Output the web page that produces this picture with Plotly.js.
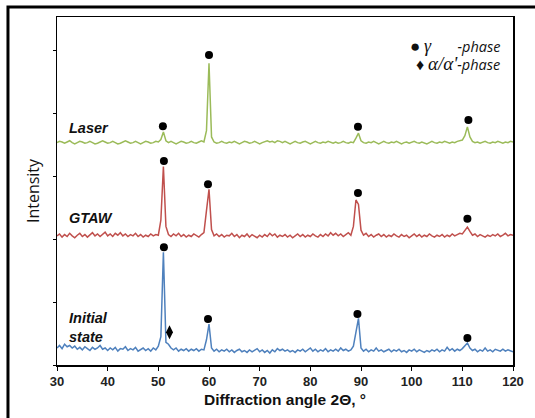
<!DOCTYPE html>
<html>
<head>
<meta charset="utf-8">
<script src="https://cdn.plot.ly/plotly-3.0.1.min.js"></script>
<style>html,body{margin:0;padding:0;background:#fff;}#chart{width:535px;height:418px;}</style>
</head>
<body>
<div id="chart"></div>
<script>
// Diffraction angle grid: 30° to 120° in 0.5° steps
var angleStart = 30, angleStep = 0.5;
var initialState = [
0.27,0.31,0.26,0.33,0.29,0.31,0.27,0.30,0.25,0.28,
0.24,0.29,0.26,0.23,0.28,0.25,0.27,0.31,0.25,0.27,
0.23,0.27,0.24,0.28,0.22,0.26,0.25,0.29,0.23,0.26,
0.24,0.28,0.22,0.25,0.27,0.23,0.26,0.22,0.27,0.24,
0.30,0.45,1.79,0.36,0.33,0.27,0.24,0.27,0.22,0.25,
0.23,0.26,0.22,0.25,0.23,0.26,0.22,0.25,0.24,0.40,
0.65,0.27,0.22,0.25,0.21,0.24,0.22,0.25,0.21,0.24,
0.20,0.23,0.25,0.21,0.23,0.20,0.24,0.21,0.23,0.26,
0.21,0.24,0.20,0.23,0.19,0.24,0.21,0.26,0.23,0.25,
0.22,0.24,0.21,0.23,0.20,0.24,0.22,0.25,0.21,0.24,
0.27,0.22,0.25,0.21,0.24,0.22,0.26,0.21,0.24,0.22,
0.25,0.22,0.27,0.23,0.25,0.22,0.24,0.30,0.55,0.74,
0.27,0.22,0.25,0.21,0.24,0.22,0.27,0.22,0.24,0.21,
0.23,0.25,0.21,0.24,0.22,0.25,0.21,0.23,0.20,0.24,
0.22,0.25,0.21,0.24,0.22,0.20,0.23,0.21,0.24,0.22,
0.25,0.21,0.24,0.22,0.28,0.23,0.26,0.22,0.25,0.23,
0.26,0.30,0.35,0.27,0.23,0.25,0.21,0.24,0.22,0.27,
0.22,0.24,0.21,0.25,0.23,0.22,0.25,0.22,0.24,0.23,
0.21];
var gtaw = [
2.05,2.08,2.03,2.07,2.04,2.09,2.05,2.02,2.06,2.09,
2.04,2.07,2.03,2.06,2.10,2.05,2.08,2.04,2.07,2.11,
2.05,2.08,2.04,2.09,2.06,2.10,2.05,2.08,2.04,2.07,
2.05,2.09,2.04,2.07,2.03,2.06,2.04,2.08,2.05,2.07,
2.06,2.30,3.15,2.20,2.07,2.04,2.08,2.05,2.09,2.04,
2.07,2.03,2.06,2.04,2.08,2.05,2.03,2.07,2.10,2.45,
2.79,2.15,2.05,2.08,2.04,2.07,2.03,2.06,2.05,2.09,
2.04,2.07,2.02,2.06,2.04,2.08,2.03,2.07,2.05,2.02,
2.06,2.03,2.07,2.04,2.09,2.05,2.08,2.03,2.06,2.04,
2.07,2.03,2.06,2.02,2.05,2.08,2.04,2.07,2.03,2.06,
2.04,2.08,2.05,2.03,2.07,2.04,2.08,2.05,2.10,2.06,
2.09,2.05,2.08,2.04,2.07,2.10,2.06,2.20,2.62,2.55,
2.14,2.06,2.09,2.04,2.07,2.03,2.06,2.08,2.04,2.07,
2.03,2.06,2.04,2.08,2.05,2.03,2.07,2.04,2.06,2.02,
2.05,2.08,2.04,2.07,2.03,2.06,2.04,2.08,2.05,2.03,
2.06,2.04,2.07,2.03,2.06,2.04,2.08,2.05,2.07,2.09,
2.08,2.14,2.19,2.12,2.06,2.08,2.04,2.07,2.05,2.03,
2.06,2.04,2.07,2.05,2.08,2.04,2.06,2.09,2.05,2.07,
2.06];
var laser = [
3.53,3.55,3.54,3.52,3.54,3.56,3.53,3.51,3.53,3.55,
3.54,3.52,3.53,3.55,3.53,3.51,3.52,3.54,3.56,3.54,
3.52,3.53,3.55,3.53,3.51,3.52,3.54,3.56,3.54,3.52,
3.53,3.55,3.53,3.51,3.53,3.55,3.54,3.52,3.53,3.55,
3.54,3.58,3.70,3.56,3.53,3.55,3.53,3.51,3.53,3.55,
3.54,3.52,3.53,3.55,3.53,3.52,3.54,3.56,3.54,3.72,
4.79,3.62,3.54,3.52,3.53,3.55,3.53,3.52,3.54,3.53,
3.55,3.53,3.51,3.53,3.55,3.54,3.52,3.53,3.55,3.53,
3.51,3.53,3.55,3.56,3.54,3.55,3.53,3.56,3.55,3.53,
3.55,3.53,3.51,3.53,3.55,3.53,3.52,3.54,3.55,3.53,
3.51,3.53,3.55,3.53,3.52,3.54,3.53,3.55,3.53,3.52,
3.54,3.52,3.53,3.55,3.53,3.52,3.54,3.53,3.60,3.68,
3.56,3.53,3.52,3.54,3.53,3.55,3.53,3.51,3.53,3.55,
3.53,3.52,3.54,3.53,3.55,3.53,3.51,3.53,3.54,3.52,
3.53,3.55,3.53,3.52,3.54,3.53,3.51,3.53,3.55,3.53,
3.52,3.54,3.53,3.55,3.53,3.52,3.54,3.53,3.55,3.56,
3.57,3.64,3.78,3.62,3.55,3.53,3.54,3.52,3.54,3.55,
3.53,3.52,3.54,3.53,3.55,3.53,3.52,3.54,3.53,3.55,
3.54];
// Phase markers
var gammaX = [50.9, 60.0, 89.4, 111.2, 51.1, 59.8, 89.4, 111.0, 51.1, 59.8, 89.3, 111.0];
var gammaY = [3.79, 4.92, 3.78, 3.89, 3.24, 2.87, 2.73, 2.32, 1.87, 0.73, 0.81, 0.43];
var alphaX = [52.2];
var alphaY = [0.52];
var sampleLabels = ["Laser", "GTAW", "Initial<br>state"];
var xTicks = [30, 40, 50, 60, 70, 80, 90, 100, 110, 120];

var angles = initialState.map(function (_, i) { return angleStart + i * angleStep; });

var traces = [
  {x: angles, y: initialState, mode: 'lines', line: {color: '#4F81BD', width: 1.5}, name: 'Initial state'},
  {x: angles, y: gtaw, mode: 'lines', line: {color: '#C0504D', width: 1.5}, name: 'GTAW'},
  {x: angles, y: laser, mode: 'lines', line: {color: '#9BBB59', width: 1.5}, name: 'Laser'},
  {x: gammaX, y: gammaY, mode: 'markers', marker: {symbol: 'circle', size: 8, color: '#000'}, name: 'gamma'},
  {x: alphaX, y: alphaY, mode: 'markers', marker: {symbol: 'diamond-tall', size: 10, color: '#000'}, name: 'alpha'}
];

var lblFont = {family: 'Liberation Sans, Arial, sans-serif', size: 14.5, color: '#111'};
var layout = {
  width: 535, height: 418,
  margin: {l: 57, r: 22, t: 17, b: 53, pad: 0},
  paper_bgcolor: '#fff', plot_bgcolor: '#fff',
  showlegend: false,
  xaxis: {
    range: [30, 120], tickvals: xTicks, ticktext: xTicks.map(function (t) { return '<b>' + t + '</b>'; }),
    showline: true, mirror: true, linecolor: '#000', linewidth: 1.5,
    ticks: 'outside', ticklen: 4, tickcolor: '#000', showgrid: false, zeroline: false,
    tickfont: {family: 'Liberation Sans, Arial, sans-serif', size: 13, color: '#222'},
    title: {text: '<b>Diffraction angle 2Θ, °</b>', font: {family: 'Liberation Sans, Arial, sans-serif', size: 15.5, color: '#111'}, standoff: 6}
  },
  yaxis: {
    range: [0, 5.524], tickvals: [0, 1, 2, 3, 4, 5], showticklabels: false,
    showline: true, mirror: true, linecolor: '#000', linewidth: 1.5,
    ticks: 'outside', ticklen: 3, tickcolor: '#000', showgrid: false, zeroline: false,
    title: {text: 'Intensity', font: {family: 'Open Sans, sans-serif', size: 16, color: '#111'}, standoff: 9}
  },
  annotations: [
    {x: 32.0, y: 3.76, xref: 'x', yref: 'y', text: '<b><i>' + sampleLabels[0] + '</i></b>', showarrow: false, xanchor: 'left', font: lblFont},
    {x: 32.0, y: 2.33, xref: 'x', yref: 'y', text: '<b><i>' + sampleLabels[1] + '</i></b>', showarrow: false, xanchor: 'left', font: lblFont},
    {x: 32.0, y: 0.60, xref: 'x', yref: 'y', text: '<b><i>' + sampleLabels[2] + '</i></b>', showarrow: false, xanchor: 'left', align: 'left', font: lblFont},
    {x: 0.975, y: 0.957, xref: 'paper', yref: 'paper', xanchor: 'right', showarrow: false,
     text: '<span style="font-size:17px">●</span> <span style="font-family:Liberation Serif;font-style:italic;font-size:18px">γ</span>       <i>-phase</i>',
     font: {family: 'Open Sans, sans-serif', size: 14.5, color: '#111'}},
    {x: 0.975, y: 0.903, xref: 'paper', yref: 'paper', xanchor: 'right', showarrow: false,
     text: '<span style="font-size:16px">♦</span> <span style="font-family:Liberation Serif;font-style:italic;font-size:19px">α/α\'</span><i>-phase</i>',
     font: {family: 'Open Sans, sans-serif', size: 14.5, color: '#111'}}
  ],
  shapes: [
    {type: 'rect', xref: 'paper', yref: 'paper', x0: -0.1075, x1: 1.07, y0: -0.2, y1: 1.029, line: {color: '#000', width: 3}}
  ]
};
Plotly.newPlot('chart', traces, layout, {staticPlot: true, displayModeBar: false});
</script>
</body>
</html>
